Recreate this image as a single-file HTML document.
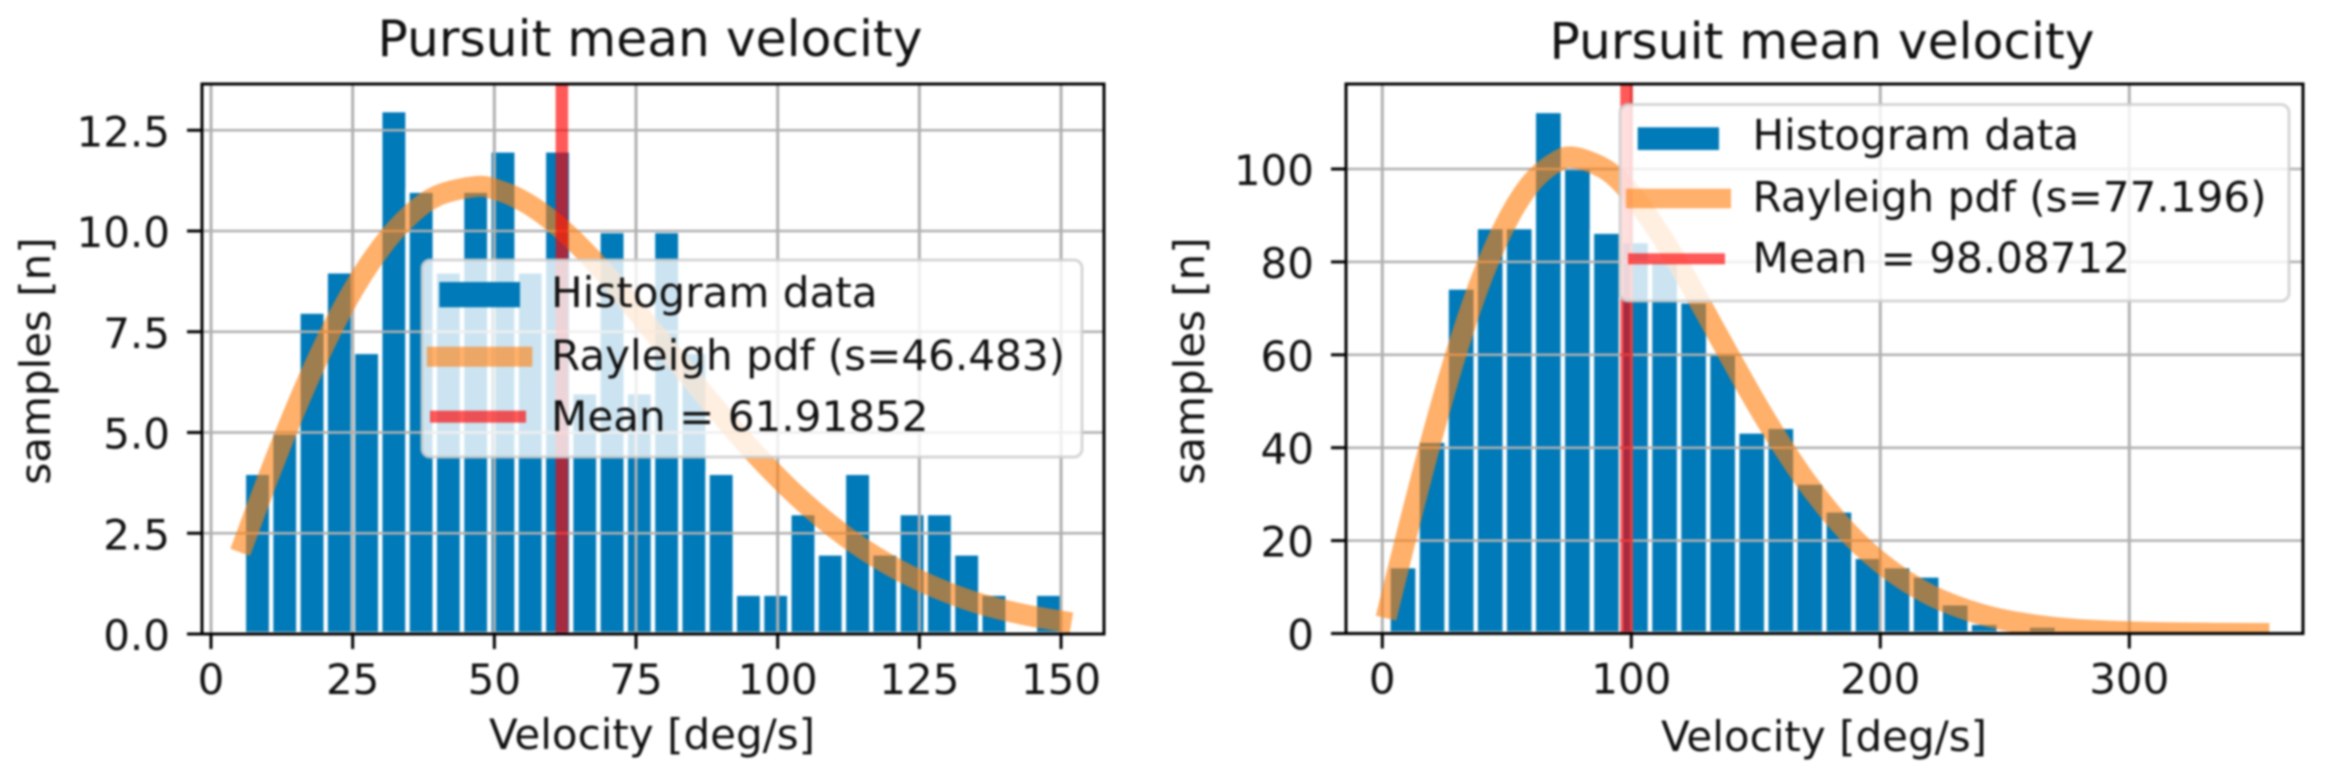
<!DOCTYPE html>
<html lang="en">
<head>
<meta charset="utf-8">
<title>Pursuit mean velocity</title>
<style>
html,body{margin:0;padding:0;background:#fff;width:2327px;height:778px;overflow:hidden}
svg{display:block;filter:blur(1.1px)}
text{font-family:"DejaVu Sans","Liberation Sans",sans-serif;fill:#111}
.tick{font-size:42px}
.label{font-size:42px}
.legend-text{font-size:42.1px}
.title{font-size:50.3px;text-anchor:middle}
</style>
</head>
<body>
<svg id="figure" xmlns="http://www.w3.org/2000/svg" width="2327" height="778" viewBox="0 0 2327 778">
  <rect x="0" y="0" width="2327" height="778" fill="#fff"/>
  <defs>
    <clipPath id="clip-left"><rect x="202" y="84" width="902" height="550"/></clipPath>
    <clipPath id="clip-right"><rect x="1346" y="84" width="957" height="549.5"/></clipPath>
  </defs>

  <g id="left-chart">
    <g id="left-marks" clip-path="url(#clip-left)"></g>
    <g id="left-axes"></g>
    <text class="title" x="650" y="56">Pursuit mean velocity</text>
    <text class="label" x="652" y="749" text-anchor="middle">Velocity [deg/s]</text>
    <text class="label" transform="translate(50,361) rotate(-90)" text-anchor="middle">samples [n]</text>
    <g>
      <rect x="422" y="260" width="660" height="197" rx="8" fill="#fff" fill-opacity="0.8" stroke="#ccc" stroke-opacity="0.8" stroke-width="3"/>
      <rect x="439.3" y="282" width="80.7" height="25.3" fill="#007ab8"/>
      <rect x="426.7" y="346.7" width="105.6" height="20" fill="#ff7f0e" fill-opacity="0.62"/>
      <rect x="430" y="410.7" width="96" height="12" fill="#ff0000" fill-opacity="0.65"/>
      <text class="legend-text" x="551" y="307">Histogram data</text>
      <text class="legend-text" x="551" y="370">Rayleigh pdf (s=46.483)</text>
      <text class="legend-text" x="551" y="431">Mean = 61.91852</text>
    </g>
  </g>

  <g id="right-chart">
    <g id="right-marks" clip-path="url(#clip-right)"></g>
    <g id="right-axes"></g>
    <text class="title" x="1822" y="58.5">Pursuit mean velocity</text>
    <text class="label" x="1824" y="751" text-anchor="middle">Velocity [deg/s]</text>
    <text class="label" transform="translate(1204,361) rotate(-90)" text-anchor="middle">samples [n]</text>
    <g>
      <rect x="1620" y="104.5" width="669" height="196.5" rx="8" fill="#fff" fill-opacity="0.8" stroke="#ccc" stroke-opacity="0.8" stroke-width="3"/>
      <rect x="1637.7" y="127.3" width="81.3" height="22.7" fill="#007ab8"/>
      <rect x="1626" y="188.7" width="105" height="19.6" fill="#ff7f0e" fill-opacity="0.62"/>
      <rect x="1628" y="253.3" width="97" height="11" fill="#ff0000" fill-opacity="0.65"/>
      <text class="legend-text" x="1752.5" y="149.3">Histogram data</text>
      <text class="legend-text" x="1752.5" y="211.7">Rayleigh pdf (s=77.196)</text>
      <text class="legend-text" x="1752.5" y="272.7">Mean = 98.08712</text>
    </g>
  </g>
</svg>
<script>
// ---- Left chart data ----
const leftCounts = [4,5,8,9,7,13,11,9,11,12,9,12,6,10,6,10,7,4,1,1,3,2,4,2,3,3,2,1,0,1];
const leftBinStart = 5.8;
const leftBinWidth = 4.813;
const leftMean = 61.91852;
const leftCurveX = [5.8,10,15,20,25,30,35,40,46.5,50,55,60,65,70,75,80,85,90,95,100,105,110,115,120,125,130,135,140,145,150];
const leftCurveY = [2.27,3.85,5.61,7.18,8.52,9.59,10.38,10.88,11.1,11.04,10.75,10.27,9.63,8.87,8.03,7.16,6.29,5.44,4.63,3.89,3.22,2.63,2.12,1.69,1.33,1.03,0.78,0.59,0.44,0.32];
const leftXTicks = [0,25,50,75,100,125,150];
const leftYTicks = [0,2.5,5,7.5,10,12.5];
const leftYTickLabels = ['0.0','2.5','5.0','7.5','10.0','12.5'];

// ---- Right chart data ----
const rightCounts = [14.5,41.5,74.5,87.5,87.5,112.5,100.5,86.5,84.5,80.5,71.5,60.5,43.5,44.5,32.5,26.5,16.5,14.5,12.5,6.5,2.3,0,1.7,0,0,0,0,0,0,0];
const rightBinStart = 2.5;
const rightBinWidth = 11.67;
const rightMean = 98.08712;
const rightCurveX = [2.5,10,20,30,40,50,60,70,77.2,90,100,110,120,130,140,150,160,170,180,190,200,210,220,230,240,250,260,270,280,300,320,352];
const rightCurveY = [5.5,21.7,42.3,60.9,76.6,88.7,97.1,101.6,102.5,99.8,94.6,87.2,78.5,68.9,59.2,49.7,40.9,32.9,26.0,20.1,15.3,11.4,8.3,6.0,4.2,2.9,2.0,1.3,0.85,0.35,0.13,0.01];
const rightXTicks = [0,100,200,300];
const rightYTicks = [0,20,40,60,80,100];
const rightYTickLabels = ['0','20','40','60','80','100'];

const SVG_NS = 'http://www.w3.org/2000/svg';

function make(tag, parent, attrs) {
  const el = document.createElementNS(SVG_NS, tag);
  for (const k in attrs) el.setAttribute(k, attrs[k]);
  parent.appendChild(el);
  return el;
}

// Smooth path through the read-off curve samples (Catmull-Rom to cubic Bezier)
function smoothPath(pts) {
  let d = 'M' + pts[0][0].toFixed(2) + ' ' + pts[0][1].toFixed(2);
  for (let i = 0; i < pts.length - 1; i++) {
    const p0 = pts[Math.max(0, i - 1)];
    const p1 = pts[i];
    const p2 = pts[i + 1];
    const p3 = pts[Math.min(pts.length - 1, i + 2)];
    const c1x = p1[0] + (p2[0] - p0[0]) / 6;
    const c1y = p1[1] + (p2[1] - p0[1]) / 6;
    const c2x = p2[0] - (p3[0] - p1[0]) / 6;
    const c2y = p2[1] - (p3[1] - p1[1]) / 6;
    d += ' C' + c1x.toFixed(2) + ' ' + c1y.toFixed(2) + ' ' + c2x.toFixed(2) + ' ' + c2y.toFixed(2) + ' ' + p2[0].toFixed(2) + ' ' + p2[1].toFixed(2);
  }
  return d;
}

function drawChart(prefix, box, xScale, yScale, counts, binStart, binWidth, mean, curveX, curveY, xTicks, yTicks, yTickLabels) {
  const marks = document.getElementById(prefix + '-marks');
  const axes = document.getElementById(prefix + '-axes');

  // Histogram bars
  counts.forEach(function (count, i) {
    if (count <= 0) return;
    const x0 = xScale(binStart + i * binWidth);
    const x1 = xScale(binStart + (i + 1) * binWidth);
    const bar = make('rect', marks, {
      x: x0, y: yScale(count), width: x1 - x0, height: yScale(0) - yScale(count),
      fill: '#007ab8', stroke: '#fff', 'stroke-width': 4.4
    });
    
    
  });

  // Grid lines
  xTicks.forEach(function (t) {
    const line = make('line', marks, {
      x1: xScale(t), x2: xScale(t), y1: box.top, y2: box.bottom,
      stroke: '#b0b0b0', 'stroke-width': 3
    });
    
    
  });
  yTicks.forEach(function (t) {
    const line = make('line', marks, {
      x1: box.left, x2: box.right, y1: yScale(t), y2: yScale(t),
      stroke: '#b0b0b0', 'stroke-width': 2.5
    });
    
    
  });

  // Rayleigh curve
  const curvePoints = curveX.map(function (x, i) {
    return [xScale(x), yScale(curveY[i])];
  });
  const curve = make('path', marks, {
    d: smoothPath(curvePoints), fill: 'none', stroke: '#ff7f0e', 'stroke-opacity': 0.62,
    'stroke-width': 21, 'stroke-linecap': 'square', 'stroke-linejoin': 'round'
  });
  
  

  // Mean line
  const meanLine = make('line', marks, {
    x1: xScale(mean), x2: xScale(mean), y1: box.top, y2: box.bottom,
    stroke: '#ff0000', 'stroke-opacity': 0.65, 'stroke-width': 12.5
  });
  
  

  // Spines
  const frame = make('rect', axes, {
    x: box.left, y: box.top, width: box.right - box.left, height: box.bottom - box.top,
    fill: 'none', stroke: '#000', 'stroke-width': 3
  });
  
  

  // X ticks
  xTicks.forEach(function (t) {
    const mark = make('line', axes, {
      x1: xScale(t), x2: xScale(t), y1: box.bottom, y2: box.bottom + 15,
      stroke: '#000', 'stroke-width': 3
    });
    
    
    const label = make('text', axes, {
      x: xScale(t), y: box.bottom + 60, 'text-anchor': 'middle', 'class': 'tick'
    });
    
    
    label.textContent = String(t);
  });

  // Y ticks
  yTicks.forEach(function (t, i) {
    const mark = make('line', axes, {
      x1: box.left - 15, x2: box.left, y1: yScale(t), y2: yScale(t),
      stroke: '#000', 'stroke-width': 3
    });
    
    
    const label = make('text', axes, {
      x: box.left - 32, y: yScale(t) + 16, 'text-anchor': 'end', 'class': 'tick'
    });
    
    
    label.textContent = yTickLabels[i];
  });
}

const leftBox = { left: 202, right: 1104, top: 84, bottom: 634 };
const rightBox = { left: 1346, right: 2303, top: 84, bottom: 633.5 };

function leftX(v) { return 211 + 5.667 * v; }
function leftY(v) { return 634 - 40.3 * v; }
function rightX(v) { return 1382.3 + 2.49 * v; }
function rightY(v) { return 633.5 - 4.645 * v; }

drawChart('left', leftBox, leftX, leftY, leftCounts, leftBinStart, leftBinWidth, leftMean, leftCurveX, leftCurveY, leftXTicks, leftYTicks, leftYTickLabels);
drawChart('right', rightBox, rightX, rightY, rightCounts, rightBinStart, rightBinWidth, rightMean, rightCurveX, rightCurveY, rightXTicks, rightYTicks, rightYTickLabels);
</script>
</body>
</html>
